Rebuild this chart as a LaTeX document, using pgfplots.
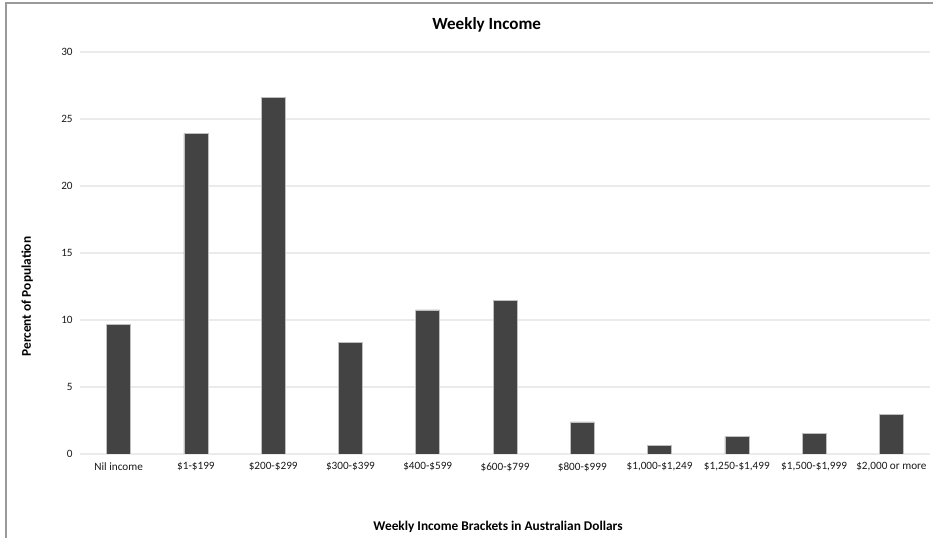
\documentclass[border=0pt]{standalone}
\usepackage{fontspec}
\setmainfont{Carlito}
\usepackage{pgfplots}
\pgfplotsset{compat=1.18}
\definecolor{barfill}{HTML}{434343}
\definecolor{gridc}{HTML}{EBEBEB}
\definecolor{framec}{HTML}{9A9A9A}

\begin{document}
\begin{tikzpicture}[x=1pt,y=1pt]
% page 933x538 px at 0.75pt per px
\useasboundingbox (0,0) rectangle (699.75,403.5);
\draw[framec, line width=1.5pt] (4.5,0) -- (4.5,401.5) -- (699.75,401.5);
\begin{axis}[
    at={(60pt,63pt)}, anchor=south west,
    scale only axis,
    width=637.5pt, height=301.5pt,
    xmin=-0.5, xmax=10.5,
    ymin=0, ymax=30,
    ytick distance=5,
    xtick=data,
    xticklabels={Nil income, \$1-\$199, \$200-\$299, \$300-\$399, \$400-\$599, \$600-\$799, \$800-\$999, \$1{,}000-\$1{,}249, \$1{,}250-\$1{,}499, \$1{,}500-\$1{,}999, \$2{,}000 or more},
    /pgf/number format/assume math mode=true,
    ticklabel style={font=\fontsize{8.4}{10}\selectfont, text=black!90},
    xticklabel style={yshift=-3pt},
    yticklabel style={xshift=-2pt},
    major tick length=0pt,
    axis line style={draw=none},
    ymajorgrids=true,
    grid style={gridc, line width=0.9pt},
]
    \addplot[ybar, bar width=18pt, fill=barfill, draw=black!25, line width=0.4pt]
        coordinates {(0,9.7)(1,23.9)(2,26.6)(3,8.35)(4,10.75)(5,11.45)(6,2.4)(7,0.65)(8,1.3)(9,1.55)(10,2.95)};
\end{axis}
\node[font=\bfseries\fontsize{12.8}{15}\selectfont] at (365,384.5) {Weekly Income};
\node[font=\bfseries\fontsize{10}{12}\selectfont, rotate=90] at (20.5,181) {Percent of Population};
\node[font=\bfseries\fontsize{10}{12}\selectfont] at (373.5,8.5) {Weekly Income Brackets in Australian Dollars};
\end{tikzpicture}
\end{document}
